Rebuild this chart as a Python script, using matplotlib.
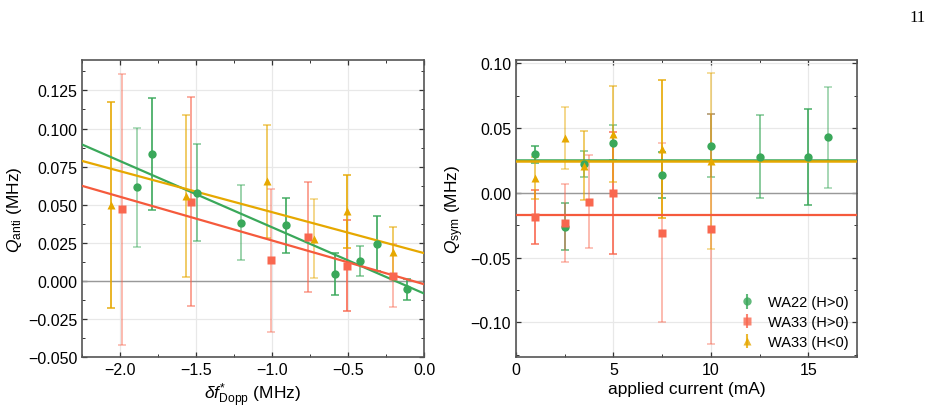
import numpy as np
import matplotlib
matplotlib.use("Agg")
import matplotlib.pyplot as plt
from matplotlib.ticker import AutoMinorLocator, FuncFormatter

plt.rcParams['font.family'] = ['Liberation Sans', 'DejaVu Sans']
plt.rcParams['mathtext.fontset'] = 'custom'
plt.rcParams['mathtext.rm'] = 'Liberation Sans'
plt.rcParams['mathtext.it'] = 'Liberation Sans:italic'
plt.rcParams['mathtext.bf'] = 'Liberation Sans:bold'

# left panel: Q_anti vs doppler shift
ga_x = [-1.888, -1.789, -1.492, -1.201, -0.909, -0.587, -0.418, -0.312, -0.114]
ga_y = [0.0614, 0.0833, 0.0579, 0.0382, 0.0364, 0.0044, 0.0132, 0.0243, -0.0055]
ga_e = [0.039, 0.037, 0.032, 0.0247, 0.018, 0.0137, 0.010, 0.018, 0.0068]

ra_x = [-1.989, -1.531, -1.010, -0.761, -0.508, -0.207]
ra_y = [0.0471, 0.0520, 0.0134, 0.0287, 0.0099, 0.0035]
ra_e = [0.089, 0.0686, 0.0467, 0.036, 0.030, 0.0207]

ya_x = [-2.062, -1.569, -1.036, -0.726, -0.510, -0.207]
ya_y = [0.0498, 0.0557, 0.0654, 0.0276, 0.0456, 0.0189]
ya_e = [0.0677, 0.0534, 0.037, 0.026, 0.024, 0.0165]

# linear fits (slope, intercept)
g_fit = (-0.04347, -0.0083)
r_fit = (-0.0287, -0.0022)
y_fit = (-0.0269, 0.0182)

# right panel: Q_sym vs applied current
gs_x = [1.0, 2.5, 3.5, 5.0, 7.5, 10.0, 12.5, 15.0, 16.0]
gs_y = [0.0297, -0.0261, 0.0225, 0.0387, 0.0139, 0.0364, 0.0279, 0.0279, 0.0431]
gs_e = [0.0068, 0.018, 0.010, 0.0135, 0.018, 0.0245, 0.032, 0.037, 0.039]

rs_x = [1.0, 2.5, 3.75, 5.0, 7.5, 10.0]
rs_y = [-0.0186, -0.0235, -0.0067, -0.0003, -0.0307, -0.0276]
rs_e = [0.021, 0.0302, 0.036, 0.047, 0.069, 0.0887]

ys_x = [1.0, 2.5, 3.5, 5.0, 7.5, 10.0]
ys_y = [0.0114, 0.0423, 0.0209, 0.0457, 0.034, 0.0245]
ys_e = [0.016, 0.024, 0.0265, 0.037, 0.0535, 0.068]

g_mean = 0.0250
r_mean = -0.0170
y_mean = 0.0243

labels = ['WA22 (H>0)', 'WA33 (H>0)', 'WA33 (H<0)']

# per-point error bar shading
ga_al = [0.45, 0.85, 0.6, 0.5, 0.85, 0.85, 0.6, 0.85, 0.85]
ra_al = [0.45, 0.6, 0.45, 0.6, 0.85, 0.45]
ya_al = [0.85, 0.6, 0.6, 0.45, 0.85, 0.6]
gs_al = [0.85, 0.75, 0.6, 0.6, 0.85, 0.6, 0.6, 0.85, 0.45]
rs_al = [0.85, 0.45, 0.45, 0.85, 0.45, 0.45]
ys_al = [0.6, 0.45, 0.6, 0.6, 0.85, 0.45]

GREEN = '#3aa85a'
RED = '#f9674f'
REDLINE = '#f55a3c'
YEL = '#e6a800'


def draw(ax, x, y, e, al, c, mk, lab):
    for xi, yi, ei, a in zip(x, y, e, al):
        ax.errorbar(xi, yi, yerr=ei, fmt='none', ecolor=c, alpha=a,
                    elinewidth=1.4, capsize=3, capthick=1.2, zorder=2)
    ax.plot(x, y, mk, color=c, ms=6, mec='none', zorder=4)
    # proxy for legend
    ax.errorbar([], [], yerr=[], fmt=mk, color=c, ms=6, mec='none',
                ecolor=c, alpha=0.8, capsize=3, label=lab)


def style(ax):
    ax.tick_params(which='both', direction='in', top=True, right=True,
                   labelsize=11.5, colors='#333333', labelcolor='black')
    ax.tick_params(which='major', length=3.5, width=0.9)
    ax.tick_params(which='minor', length=2, width=0.7)
    ax.xaxis.set_minor_locator(AutoMinorLocator(2))
    ax.yaxis.set_minor_locator(AutoMinorLocator(2))
    ax.grid(True, which='major', color='#e8e8e8', lw=0.9, zorder=0)
    ax.set_axisbelow(True)
    ax.axhline(0, color='#999999', lw=1, zorder=1.8)
    for s in ax.spines.values():
        s.set_color('#555555')
        s.set_linewidth(1.2)


fig = plt.figure(figsize=(9.45, 4.1), dpi=100)
ax1 = fig.add_axes([0.0868, 0.1268, 0.3619, 0.7245])
ax2 = fig.add_axes([0.546, 0.1268, 0.361, 0.7245])

# left
style(ax1)
xx = np.array([-2.25, 0.0])
ax1.plot(xx, g_fit[0] * xx + g_fit[1], color=GREEN, lw=1.6, zorder=3)
ax1.plot(xx, r_fit[0] * xx + r_fit[1], color=REDLINE, lw=1.6, zorder=3)
ax1.plot(xx, y_fit[0] * xx + y_fit[1], color=YEL, lw=1.6, zorder=3)
draw(ax1, ga_x, ga_y, ga_e, ga_al, GREEN, 'o', labels[0])
draw(ax1, ra_x, ra_y, ra_e, ra_al, RED, 's', labels[1])
draw(ax1, ya_x, ya_y, ya_e, ya_al, YEL, '^', labels[2])
ax1.set_xlim(-2.25, 0.0)
ax1.set_ylim(-0.05, 0.145)
ax1.set_xticks([-2.0, -1.5, -1.0, -0.5, 0.0])
ax1.set_yticks([-0.05, -0.025, 0, 0.025, 0.05, 0.075, 0.1, 0.125])
ax1.set_xlabel(r'$\delta f^{*}_{\mathrm{Dopp}}$ (MHz)', fontsize=12.5, labelpad=3)
ax1.set_ylabel(r'$Q_{\mathrm{anti}}$ (MHz)', fontsize=12.5, labelpad=3)

# right
style(ax2)
ax2.axhline(g_mean, color=GREEN, lw=1.8, zorder=3)
ax2.axhline(y_mean, color=YEL, lw=1.8, zorder=3)
ax2.axhline(r_mean, color=REDLINE, lw=1.6, zorder=3)
draw(ax2, gs_x, gs_y, gs_e, gs_al, GREEN, 'o', labels[0])
draw(ax2, rs_x, rs_y, rs_e, rs_al, RED, 's', labels[1])
draw(ax2, ys_x, ys_y, ys_e, ys_al, YEL, '^', labels[2])
ax2.set_xlim(0, 17.5)
ax2.set_ylim(-0.1267, 0.1026)
ax2.set_xticks([0, 5, 10, 15])
ax2.set_yticks([-0.10, -0.05, 0.0, 0.05, 0.10])
ax2.yaxis.set_major_formatter(
    FuncFormatter(lambda v, p: ('%.2f' % v).replace('-', '\u2212')))
ax2.set_xlabel('applied current (mA)', fontsize=12.5, labelpad=3)
ax2.set_ylabel(r'$Q_{\mathrm{sym}}$ (MHz)', fontsize=12.5, labelpad=3)
ax2.legend(loc='lower right', frameon=False, fontsize=10.5, handlelength=1.2,
           handletextpad=0.9, labelspacing=0.4, borderaxespad=0.15)

fig.text(0.979, 0.955, '11', ha='right', va='center', fontsize=12,
         family='Liberation Serif')

fig.savefig('out.png', dpi=100)
